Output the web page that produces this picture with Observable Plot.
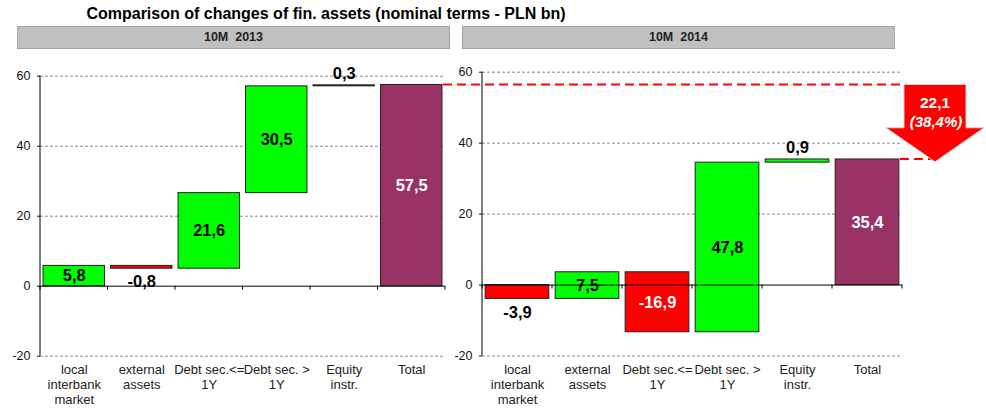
<!DOCTYPE html>
<html><head><meta charset="utf-8">
<script src="https://cdn.jsdelivr.net/npm/d3@7"></script>
<script src="https://cdn.jsdelivr.net/npm/@observablehq/plot@0.6"></script>
<style>
body{margin:0;background:#fff;font-family:"Liberation Sans",Arial,sans-serif;}
#wrap{position:relative;width:986px;height:409px;overflow:hidden;background:#fff;}
#title{position:absolute;left:0;top:5px;width:652px;text-align:center;font-weight:bold;font-size:16px;line-height:18px;color:#000;white-space:nowrap;}
.hdr{position:absolute;top:26px;height:21px;width:431px;background:#c0c0c0;border:1px solid #a3a3a3;text-align:center;font-weight:bold;font-size:12.5px;line-height:21px;color:#222;white-space:pre;}
.chart{position:absolute;left:0;top:55px;}
</style></head>
<body><div id="wrap">
<div id="title"></div>
<div class="hdr" id="h1" style="left:17px"></div>
<div class="hdr" id="h2" style="left:462px"></div>
<div class="chart" id="c2"></div>
<div class="chart" id="c1"></div>
</div>
<script>
const titleText = "Comparison of changes of fin. assets (nominal terms - PLN bn)";
const panelTitles = ["10M  2013", "10M  2014"];
const categories = ["local\ninterbank\nmarket", "external\nassets", "Debt sec.<=\n1Y", "Debt sec. >\n1Y", "Equity\ninstr.", "Total"];
const changes2013 = [5.8, -0.8, 21.6, 30.5, 0.3];
const total2013 = 57.5;
const changes2014 = [-3.9, 7.5, -16.9, 47.8, 0.9];
const total2014 = 35.4;
const yTicks = [-20, 0, 20, 40, 60];

const colors = {up: "#00ff00", down: "#ff0000", total: "#993366"};
const ARROW = {cx: 935, shaft: 62, head: 98};

document.getElementById("title").textContent = titleText;
document.getElementById("h1").textContent = panelTitles[0];
document.getElementById("h2").textContent = panelTitles[1];

function rows(changes, total) {
  let acc = 0; const out = [];
  changes.forEach((v, i) => {
    const s = acc; acc += v;
    out.push({cat: categories[i], value: v, y1: s, y2: acc, kind: v >= 0 ? "up" : "down"});
  });
  out.push({cat: categories[categories.length - 1], value: total, y1: 0, y2: total, kind: "total"});
  return out;
}
const fmt = v => v.toFixed(1).replace(".", ",");
const inside = d => d.kind === "total" || Math.abs(d.value) >= 5;

function bandInfo(x, dim) {
  const step = (dim.width - dim.marginLeft - dim.marginRight) / categories.length;
  let bw = typeof x.bandwidth === "function" ? x.bandwidth() : (typeof x.bandwidth === "number" ? x.bandwidth : step * 0.91);
  return {step, bw};
}

function chrome(g, scales, dim) {
  const {x, y} = scales;
  const {step} = bandInfo(x, dim);
  g.append("line").attr("x1", dim.marginLeft).attr("x2", dim.marginLeft)
    .attr("y1", y(yTicks[yTicks.length - 1])).attr("y2", y(yTicks[0])).attr("stroke", "#000");
  for (let k = 0; k <= categories.length; k++) {
    const xx = dim.marginLeft + k * step;
    g.append("line").attr("x1", xx).attr("x2", xx).attr("y1", y(0)).attr("y2", y(0) + 4).attr("stroke", "#000");
  }
}

function leftExtras(index, scales, values, dim) {
  const {x, y} = scales;
  const g = d3.create("svg:g");
  chrome(g, scales, dim);
  const {bw} = bandInfo(x, dim);
  const xs = x(categories[categories.length - 1]) + bw;
  const yTop = y(total2013), yTip = y(total2014);
  g.append("line").attr("x1", xs + 1).attr("x2", ARROW.cx - ARROW.shaft / 2)
    .attr("y1", yTop).attr("y2", yTop).attr("stroke", "#ff0000").attr("stroke-width", 2).attr("stroke-dasharray", "9,5");
  const headTop = yTop + 0.56 * (yTip - yTop);
  const s = ARROW.shaft / 2, h = ARROW.head / 2, c = ARROW.cx;
  const pts = [[c - s, yTop], [c + s, yTop], [c + s, headTop], [c + h, headTop], [c, yTip], [c - h, headTop], [c - s, headTop]];
  g.append("polygon").attr("points", pts.map(p => p.join(",")).join(" "))
    .attr("fill", "#ff0000").attr("stroke", "#d4d4d4").attr("stroke-width", 1);
  const diff = total2013 - total2014;
  const pct = diff / total2013 * 100;
  g.append("text").attr("x", c).attr("y", yTop + 23.5).attr("text-anchor", "middle")
    .attr("fill", "#fff").attr("font-weight", "bold").attr("font-size", 15.5).text(fmt(diff));
  g.append("text").attr("x", c + 1).attr("y", yTop + 42.5).attr("text-anchor", "middle")
    .attr("fill", "#fff").attr("font-weight", "bold").attr("font-style", "italic").attr("font-size", 15)
    .text("(" + fmt(pct) + "%)");
  return g.node();
}

function rightExtras(index, scales, values, dim) {
  const {x, y} = scales;
  const g = d3.create("svg:g");
  chrome(g, scales, dim);
  const {bw} = bandInfo(x, dim);
  const xs = x(categories[categories.length - 1]) + bw;
  g.append("line").attr("x1", xs + 1).attr("x2", ARROW.cx)
    .attr("y1", y(total2014)).attr("y2", y(total2014)).attr("stroke", "#ff0000").attr("stroke-width", 2).attr("stroke-dasharray", "9,5");
  return g.node();
}

function chart(data, m, extra) {
  return Plot.plot({
    width: 986, height: 354,
    marginTop: m.top, marginBottom: m.bottom, marginLeft: m.left, marginRight: m.right,
    style: {background: "transparent", overflow: "visible", fontFamily: "Liberation Sans, Arial, sans-serif", color: "#111"},
    x: {domain: categories, paddingInner: 0.09, paddingOuter: 0.045, round: false, axis: null},
    y: {domain: [-20, 60], nice: false},
    color: {type: "identity"},
    marks: [
      Plot.gridY(yTicks.filter(t => t !== 0), {stroke: "#8c8c8c", strokeOpacity: 1, strokeDasharray: "3,2"}),
      Plot.axisY(yTicks, {tickSize: 3, tickPadding: 7, fontSize: 12.5, tickFormat: d => String(d), label: null}),
      Plot.text(categories, {x: d => d, frameAnchor: "bottom", lineAnchor: "top", dy: 7, fontSize: 13, lineHeight: 1.17, fill: "#222"}),
      Plot.barY(data, {x: "cat", y1: "y1", y2: "y2", fill: d => colors[d.kind], stroke: "#222", strokeWidth: 1}),
      Plot.ruleY([0], {stroke: "#000"}),
      Plot.text(data.filter(inside), {x: "cat", y: d => (d.y1 + d.y2) / 2, text: d => fmt(d.value),
        fill: d => d.kind === "up" ? "#000" : "#fff", fontSize: 16.5, fontWeight: "bold"}),
      Plot.text(data.filter(d => !inside(d) && d.value >= 0), {x: "cat", y: d => Math.max(d.y1, d.y2), text: d => fmt(d.value),
        lineAnchor: "bottom", dy: -6, fill: "#000", fontSize: 16.5, fontWeight: "bold"}),
      Plot.text(data.filter(d => !inside(d) && d.value < 0), {x: "cat", y: d => Math.min(d.y1, d.y2), text: d => fmt(d.value),
        lineAnchor: "top", dy: 7, fill: "#000", fontSize: 16.5, fontWeight: "bold"}),
      extra
    ]
  });
}

document.getElementById("c2").appendChild(chart(rows(changes2014, total2014), {top: 16.7, bottom: 53.5, left: 482, right: 84}, rightExtras));
document.getElementById("c1").appendChild(chart(rows(changes2013, total2013), {top: 20.7, bottom: 53.3, left: 40, right: 541}, leftExtras));
</script>
</body></html>
